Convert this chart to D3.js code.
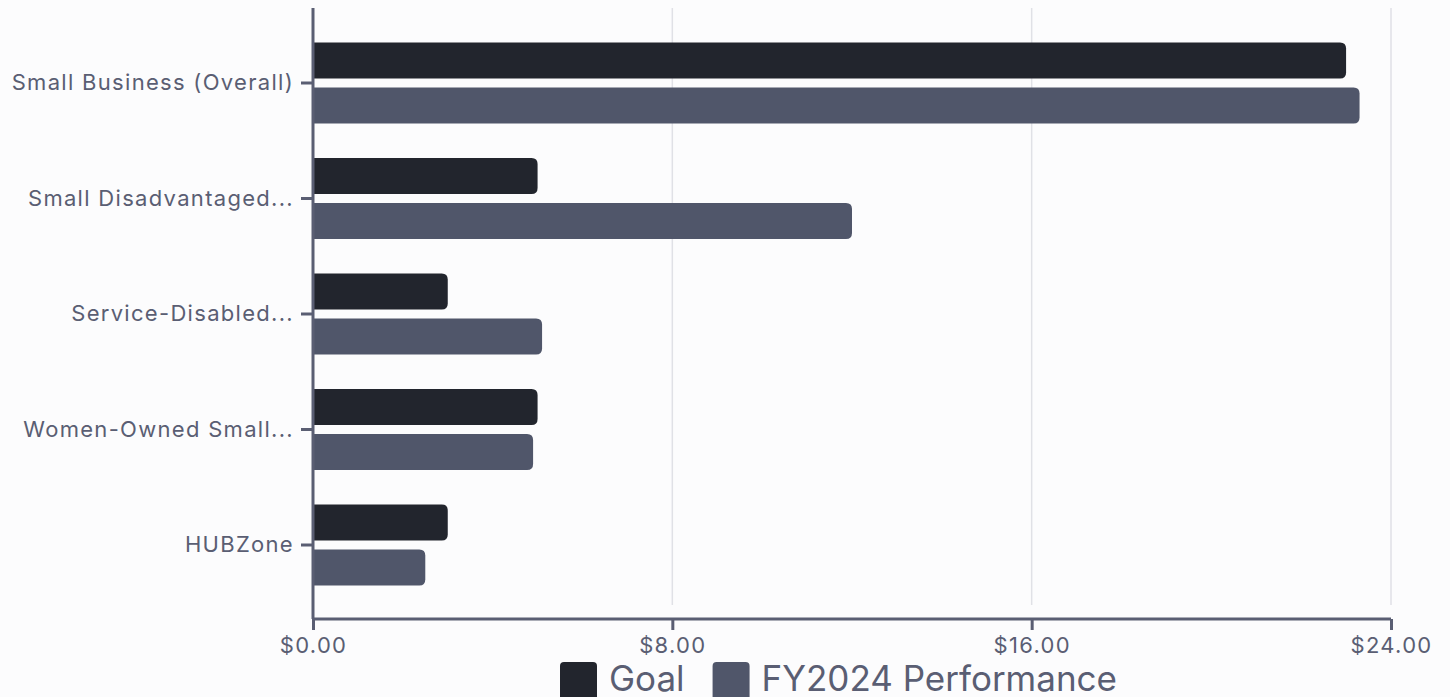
<!DOCTYPE html>
<html>
<head>
<meta charset="utf-8">
<script src="https://cdn.jsdelivr.net/npm/d3@7"></script>
<style>
  html, body { margin: 0; padding: 0; background: #fcfcfd; }
  svg { display: block; font-family: Inter, "Noto Sans", sans-serif; }
</style>
</head>
<body>
<svg id="chart" width="1450" height="697"></svg>
<script>
const categories = ["Small Business (Overall)", "Small Disadvantaged...", "Service-Disabled...", "Women-Owned Small...", "HUBZone"];
const seriesNames = ["Goal", "FY2024 Performance"];
const goalValues = [23, 5, 3, 5, 3];
const performanceValues = [23.3, 12, 5.1, 4.9, 2.5];
const xTicks = [0, 8, 16, 24];
const colors = ["#22252d", "#50566a"];

const svg = d3.select("#chart");
const mLeft = 313, mRight = 1391, mTop = 8, mBottom = 619;

const x = d3.scaleLinear().domain([0, 24]).range([mLeft, mRight]);
const y = d3.scaleBand().domain(categories).range([25.25, 602.75]).paddingInner(0.3).paddingOuter(0.15);
const ySub = d3.scaleBand().domain(seriesNames).range([0, y.bandwidth()]).paddingInner(0.2);

const data = categories.map((c, i) => ({ cat: c, vals: [goalValues[i], performanceValues[i]] }));

// gridlines
svg.append("g").selectAll("line").data(xTicks.slice(1)).join("line")
  .attr("x1", d => x(d)).attr("x2", d => x(d))
  .attr("y1", mTop).attr("y2", 605)
  .attr("stroke", "#e0e1e6").attr("stroke-width", 1.5);

// bars with rounded right end
function barPath(x0, y0, w, h, r) {
  r = Math.min(r, w / 2, h / 2);
  return `M${x0},${y0}H${x0 + w - r}Q${x0 + w},${y0} ${x0 + w},${y0 + r}V${y0 + h - r}Q${x0 + w},${y0 + h} ${x0 + w - r},${y0 + h}H${x0}Z`;
}
const groups = svg.append("g").selectAll("g").data(data).join("g")
  .attr("transform", d => `translate(0,${y(d.cat)})`);
groups.selectAll("path").data(d => d.vals.map((v, k) => ({ v, k }))).join("path")
  .attr("d", d => barPath(x(0), ySub(seriesNames[d.k]), x(d.v) - x(0), ySub.bandwidth(), 6))
  .attr("fill", d => colors[d.k]);

// axes
const axisColor = "#5a5e73";
const xAxis = svg.append("g").attr("transform", `translate(0,${mBottom})`)
  .call(d3.axisBottom(x).tickValues(xTicks).tickFormat(d => "$" + d3.format(".2f")(d)).tickSize(11).tickPadding(7).tickSizeOuter(0));
const yAxis = svg.append("g").attr("transform", `translate(${mLeft},0)`)
  .call(d3.axisLeft(y).tickSize(12).tickPadding(7).tickSizeOuter(0));
[xAxis, yAxis].forEach(a => {
  a.select(".domain").attr("stroke", axisColor).attr("stroke-width", 3);
  a.selectAll(".tick line").attr("stroke", axisColor).attr("stroke-width", 3);
  a.selectAll(".tick text").attr("fill", axisColor)
    .style("font-size", "22px").style("letter-spacing", "1.3px").style("font-family", "Inter, sans-serif");
});
yAxis.select(".domain").attr("d", `M0,${mTop}V${mBottom}`);
xAxis.select(".domain").attr("d", `M${mLeft},0H${mRight}`);

// legend
const legend = svg.append("g").attr("transform", "translate(560,662)");
let lx = 0;
seriesNames.forEach((s, i) => {
  const g = legend.append("g").attr("transform", `translate(${lx},0)`);
  g.append("rect").attr("width", 37).attr("height", 40).attr("rx", 4).attr("fill", colors[i]);
  const t = g.append("text").attr("x", 49).attr("y", 29).text(s)
    .attr("fill", axisColor).style("font-size", "35px");
  lx += 49 + t.node().getComputedTextLength() + 28;
});
</script>
</body>
</html>
